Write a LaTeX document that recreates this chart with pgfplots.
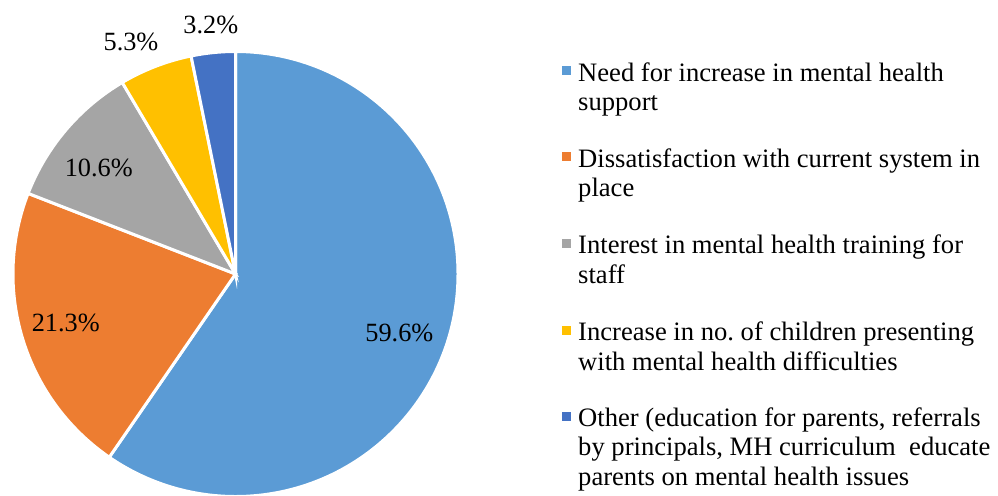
\documentclass[border=0pt]{standalone}
\usepackage{pgfplots}
\pgfplotsset{compat=1.18}
\usepackage{fontspec}
\setmainfont{Liberation Serif}[Ligatures=TeX]
\definecolor{c1}{HTML}{5B9BD5}
\definecolor{c2}{HTML}{ED7D31}
\definecolor{c3}{HTML}{A5A5A5}
\definecolor{c4}{HTML}{FFC000}
\definecolor{c5}{HTML}{4472C4}
\newcommand{\R}{222.5bp}
\begin{document}
\begin{tikzpicture}
\begin{axis}[
  width=998bp, height=495bp, scale only axis,
  xmin=0, xmax=998, ymin=0, ymax=495,
  hide axis, clip=false,
]
% slices: values 59.6, 21.3, 10.6, 5.3, 3.2 (percent), clockwise from top
\begin{scope}[draw=white, line width=3bp, line join=miter]
\filldraw[fill=c1] (axis cs:235.5,221) -- ++(90:\R) arc[start angle=90, end angle={90-59.6*3.6}, radius=\R] -- cycle;
\filldraw[fill=c2] (axis cs:235.5,221) -- ++({90-59.6*3.6}:\R) arc[start angle={90-59.6*3.6}, end angle={90-80.9*3.6}, radius=\R] -- cycle;
\filldraw[fill=c3] (axis cs:235.5,221) -- ++({90-80.9*3.6}:\R) arc[start angle={90-80.9*3.6}, end angle={90-91.5*3.6}, radius=\R] -- cycle;
\filldraw[fill=c4] (axis cs:235.5,221) -- ++({90-91.5*3.6}:\R) arc[start angle={90-91.5*3.6}, end angle={90-96.8*3.6}, radius=\R] -- cycle;
\filldraw[fill=c5] (axis cs:235.5,221) -- ++({90-96.8*3.6}:\R) arc[start angle={90-96.8*3.6}, end angle={90-100*3.6}, radius=\R] -- cycle;
\end{scope}
% data labels
\begin{scope}[every node/.style={inner sep=0pt, anchor=base, font=\rmfamily\fontsize{26.3bp}{29.5bp}\selectfont}]
\node at (axis cs:399.4,153.3) {59.6\%};
\node at (axis cs:65.8,163.3) {21.3\%};
\node at (axis cs:98.8,318.3) {10.6\%};
\node at (axis cs:131,444.3) {5.3\%};
\node at (axis cs:210.8,461.7) {3.2\%};
\end{scope}
% legend
\begin{scope}[every node/.style={inner sep=0pt, anchor=base west, font=\rmfamily\fontsize{26.6bp}{29.5bp}\selectfont}]
\node at (axis cs:578,413) {Need for increase in mental health};
\node at (axis cs:578,384) {support};
\node at (axis cs:578,328) {Dissatisfaction with current system in};
\node at (axis cs:578,298.5) {place};
\node at (axis cs:578,242) {Interest in mental health training for};
\node at (axis cs:578,212) {staff};
\node at (axis cs:578,155) {Increase in no.\ of children presenting};
\node at (axis cs:578,125) {with mental health difficulties};
\node at (axis cs:578,68.5) {Other (education for parents, referrals};
\node at (axis cs:578,39.5) {by principals, MH curriculum\ \ educate};
\node at (axis cs:578,10) {parents on mental health issues};
\end{scope}
\fill[c1] (axis cs:562,419.5) rectangle (axis cs:571,428.5);
\fill[c2] (axis cs:562,333.5) rectangle (axis cs:571,342.5);
\fill[c3] (axis cs:562,247.5) rectangle (axis cs:571,256.5);
\fill[c4] (axis cs:562,160.5) rectangle (axis cs:571,169.5);
\fill[c5] (axis cs:562,74) rectangle (axis cs:571,83);
\coordinate (bl) at (axis cs:0,0);
\coordinate (tr) at (axis cs:998,495);
\end{axis}
\pgfresetboundingbox
\useasboundingbox (bl) rectangle (tr);
\end{tikzpicture}
\end{document}
